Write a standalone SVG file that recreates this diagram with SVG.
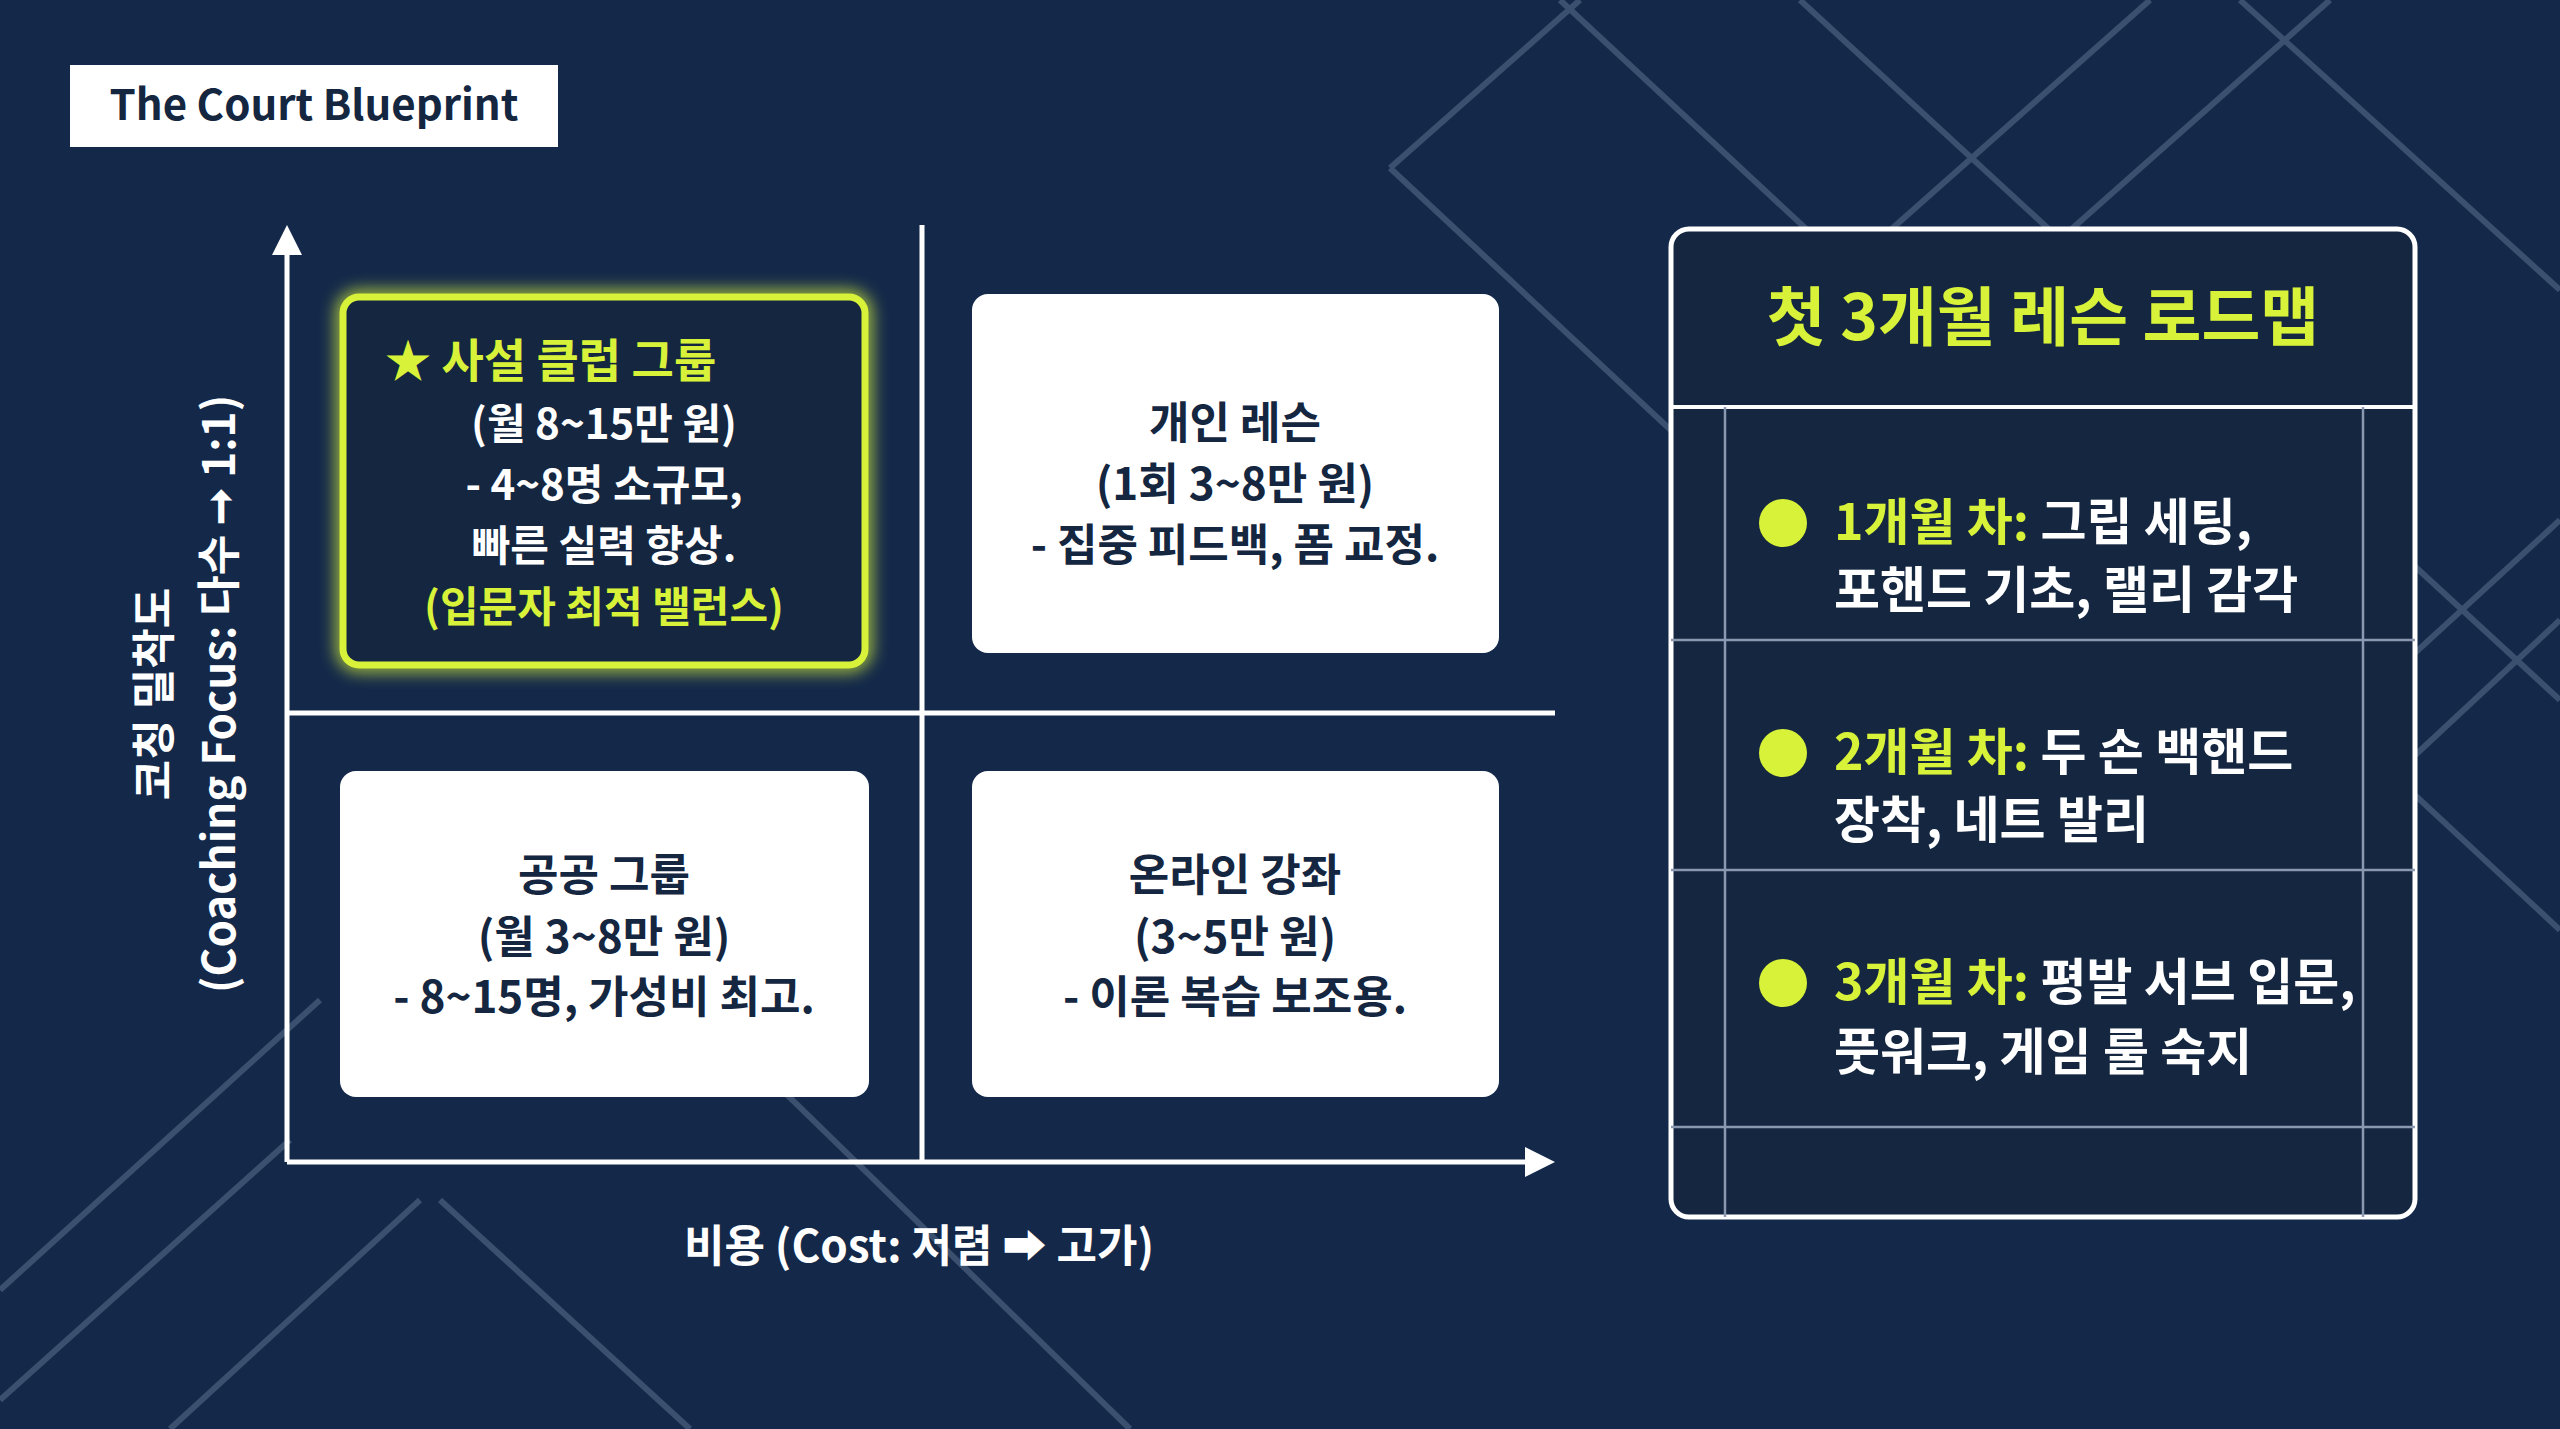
<svg xmlns="http://www.w3.org/2000/svg" width="2560" height="1429" viewBox="0 0 2560 1429">
<defs>
<style>
.t{font-family:"Noto Sans CJK KR","Noto Sans",sans-serif;font-weight:700}
.dk{fill:#142640;font-size:44px;text-anchor:middle}
.wt{fill:#ffffff}
.yl{fill:#d8f23a}
.bg{stroke:#3b4f6e;stroke-width:6;fill:none}
.ln{stroke:#ffffff;stroke-width:5;fill:none}
.card{fill:#ffffff}
.grid{stroke:#8a98b0;stroke-width:2.5}
</style>
<marker id="ah" viewBox="0 0 10 10" refX="5" refY="5" markerWidth="6" markerHeight="6" orient="auto-start-reverse" markerUnits="strokeWidth"><path d="M0,0 L10,5 L0,10 z" fill="#fff"/></marker>
<filter id="glow" x="-20%" y="-20%" width="140%" height="140%"><feGaussianBlur stdDeviation="8"/></filter>
</defs>
<rect width="2560" height="1429" fill="#14294a"/>
<g id="court-bg">
<path class="bg" d="M1390 168 L1580 0 M1390 168 L1810 560 M1560 0 L2560 930 M1800 0 L2560 700 M2150 0 L1710 390 M2330 0 L1890 390 M2240 0 L2560 290 M2560 520 L2200 850 M2560 620 L2260 900 M0 1290 L320 1000 M0 1400 L290 1140 M170 1429 L420 1200 M690 1429 L440 1200 M1130 1429 L700 1010"/>
</g>
<g id="title">
<rect x="70" y="65" width="488" height="82" fill="#fff"/>
<text class="t" x="314" y="120" font-size="42" fill="#142640" text-anchor="middle" font-family="Inter,'Noto Sans',sans-serif">The Court Blueprint</text>
</g>
<g id="connectors">
<line class="ln" x1="287" y1="1162" x2="287" y2="240" marker-end="url(#ah)"/>
<line class="ln" x1="287" y1="1162" x2="1540" y2="1162" marker-end="url(#ah)"/>
<line class="ln" x1="922" y1="225" x2="922" y2="1162"/>
<line class="ln" x1="287" y1="713" x2="1555" y2="713"/>
</g>
<g id="y-label">
<text class="t wt" font-size="44" text-anchor="middle" transform="translate(170,694) rotate(-90)">코칭 밀착도</text>
<text class="t wt" font-size="44" text-anchor="middle" transform="translate(235,694) rotate(-90)">(Coaching Focus: 다수 ➞ 1:1)</text>
</g>
<g id="x-label">
<text class="t wt" font-size="44" x="919" y="1262" text-anchor="middle">비용 (Cost: 저렴 ➡ 고가)</text>
</g>
<g id="private-club">
<rect x="343" y="297" width="522" height="368" rx="16" fill="none" stroke="#d8f23a" stroke-width="14" filter="url(#glow)" opacity="0.8"/>
<rect x="343" y="297" width="522" height="368" rx="16" fill="#142640" stroke="#d8f23a" stroke-width="7"/>
<text class="t yl" font-size="46" x="385" y="377">★ 사설 클럽 그룹</text>
<text class="t wt" font-size="42" x="604" y="439" text-anchor="middle">(월 8~15만 원)</text>
<text class="t wt" font-size="42" x="604" y="500" text-anchor="middle">- 4~8명 소규모,</text>
<text class="t wt" font-size="42" x="604" y="561" text-anchor="middle">빠른 실력 향상.</text>
<text class="t yl" font-size="42" x="604" y="622" text-anchor="middle">(입문자 최적 밸런스)</text>
</g>
<g id="private-lesson">
<rect class="card" x="972" y="294" width="527" height="359" rx="16"/>
<text class="t dk" font-size="48" x="1235" y="439">개인 레슨</text>
<text class="t dk" x="1235" y="500">(1회 3~8만 원)</text>
<text class="t dk" x="1235" y="561">- 집중 피드백, 폼 교정.</text>
</g>
<g id="public-group">
<rect class="card" x="340" y="771" width="529" height="326" rx="16"/>
<text class="t dk" font-size="48" x="604" y="891">공공 그룹</text>
<text class="t dk" x="604" y="953">(월 3~8만 원)</text>
<text class="t dk" x="604" y="1013">- 8~15명, 가성비 최고.</text>
</g>
<g id="online">
<rect class="card" x="972" y="771" width="527" height="326" rx="16"/>
<text class="t dk" font-size="48" x="1235" y="891">온라인 강좌</text>
<text class="t dk" x="1235" y="953">(3~5만 원)</text>
<text class="t dk" x="1235" y="1013">- 이론 복습 보조용.</text>
</g>
<g id="roadmap">
<rect x="1671" y="229" width="744" height="988" rx="18" fill="#142640" stroke="#fff" stroke-width="5"/>
<line x1="1671" y1="407" x2="2415" y2="407" stroke="#fff" stroke-width="4"/>
<line class="grid" x1="1725" y1="407" x2="1725" y2="1217"/>
<line class="grid" x1="2363" y1="407" x2="2363" y2="1217"/>
<line class="grid" x1="1671" y1="640" x2="2415" y2="640"/>
<line class="grid" x1="1671" y1="870" x2="2415" y2="870"/>
<line class="grid" x1="1671" y1="1127" x2="2415" y2="1127"/>
<text class="t yl" font-size="64" x="2043" y="340" text-anchor="middle">첫 3개월 레슨 로드맵</text>
<circle cx="1783" cy="523" r="24" fill="#d8f23a"/>
<circle cx="1783" cy="753" r="24" fill="#d8f23a"/>
<circle cx="1783" cy="983" r="24" fill="#d8f23a"/>
<text class="t" font-size="50" x="1834" y="540"><tspan class="yl">1개월 차:</tspan><tspan class="wt"> 그립 세팅,</tspan></text>
<text class="t wt" font-size="50" x="1834" y="608">포핸드 기초, 랠리 감각</text>
<text class="t" font-size="50" x="1834" y="770"><tspan class="yl">2개월 차:</tspan><tspan class="wt"> 두 손 백핸드</tspan></text>
<text class="t wt" font-size="50" x="1834" y="838">장착, 네트 발리</text>
<text class="t" font-size="50" x="1834" y="1000"><tspan class="yl">3개월 차:</tspan><tspan class="wt"> 평발 서브 입문,</tspan></text>
<text class="t wt" font-size="50" x="1834" y="1070">풋워크, 게임 룰 숙지</text>
</g>
</svg>
